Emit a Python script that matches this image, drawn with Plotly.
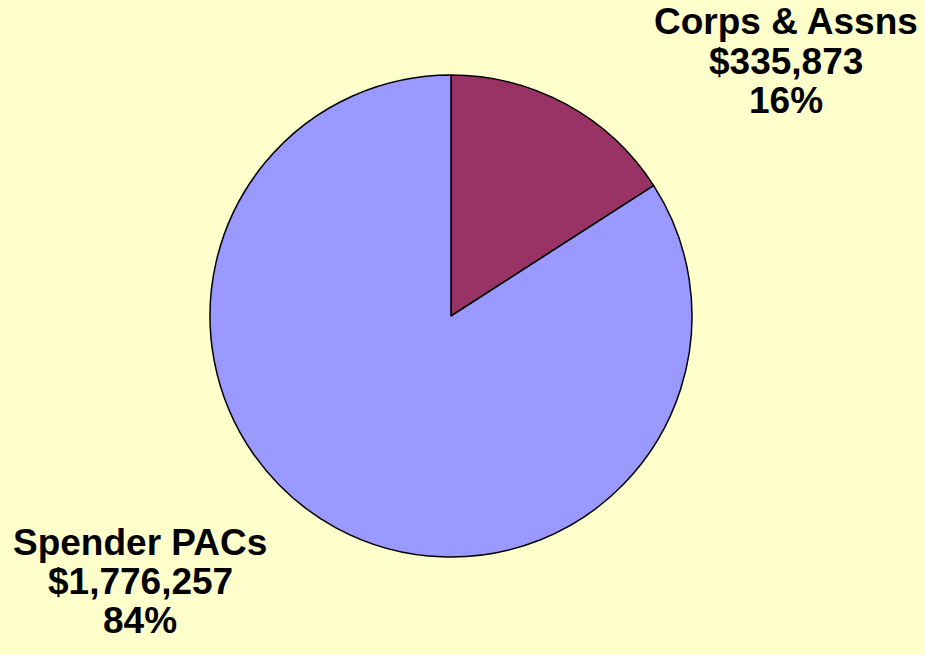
import plotly.graph_objects as go

categories = ["Corps & Assns", "Spender PACs"]
values = [335873, 1776257]
colors = ["#993366", "#9999FF"]

W, H = 925, 655
total = sum(values)
pcts = [round(v / total * 100) for v in values]

fig = go.Figure(go.Pie(
    labels=categories,
    values=values,
    sort=False,
    direction="clockwise",
    rotation=0,
    marker=dict(colors=colors, line=dict(color="black", width=1.5)),
    textinfo="none",
    hoverinfo="label+value+percent",
    showlegend=False,
    domain=dict(x=[210 / W, 692 / W], y=[1 - 557 / H, 1 - 75 / H]),
))

label_pos = {
    "Corps & Assns": (786, [22, 61, 100]),
    "Spender PACs": (140, [542, 581, 620]),
}
font = dict(family="Liberation Sans, Arial, sans-serif", size=37, color="black")
for cat, val, pct in zip(categories, values, pcts):
    cx, ys = label_pos[cat]
    lines = [cat, "${:,}".format(val), f"{pct}%"]
    for line, yy in zip(lines, ys):
        fig.add_annotation(
            x=cx / W, y=1 - yy / H, xref="paper", yref="paper",
            text=f"<b>{line}</b>", showarrow=False,
            xanchor="center", yanchor="middle", font=font,
        )

fig.update_layout(
    width=W, height=H,
    margin=dict(l=0, r=0, t=0, b=0),
    paper_bgcolor="#FFFFCC",
    plot_bgcolor="#FFFFCC",
)
fig.write_html(
    "out.html",
    config={"displayModeBar": False},
    post_script="document.body.style.margin='0px';document.body.style.background='#FFFFCC';",
)
